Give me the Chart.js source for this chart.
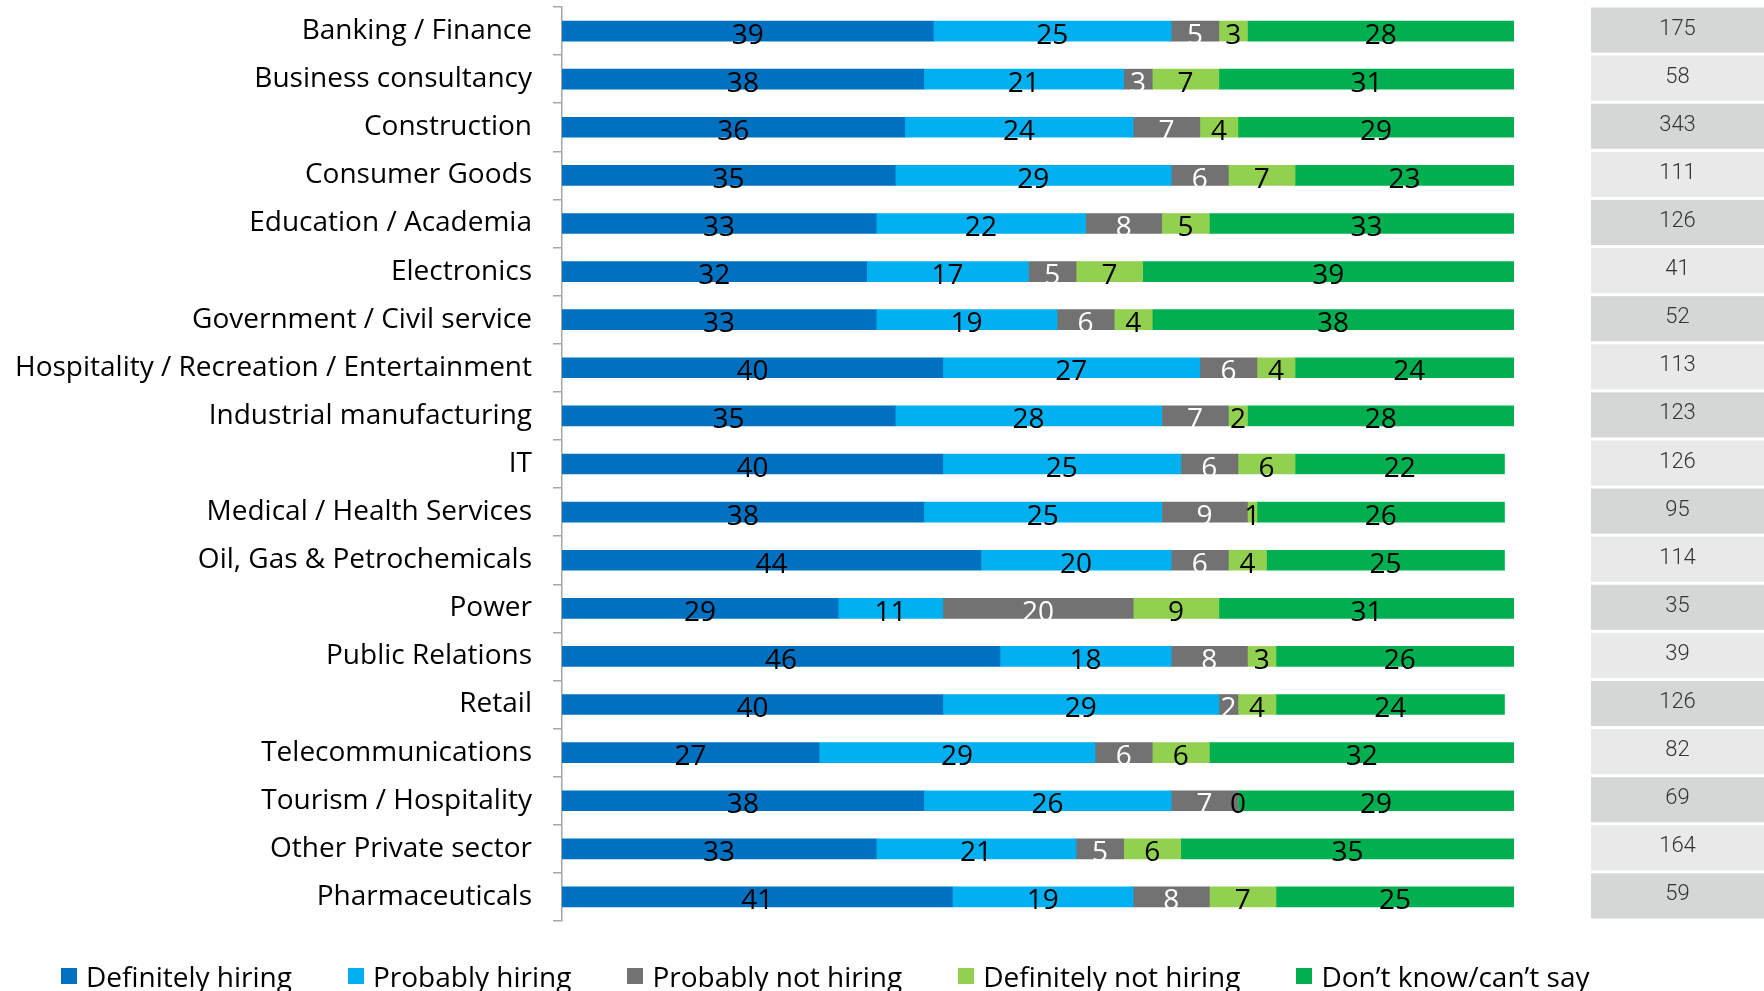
<!DOCTYPE html>
<html>
<head>
<meta charset="utf-8">
<script src="https://cdn.jsdelivr.net/npm/chart.js@4/dist/chart.umd.min.js"></script>
<style>
    html, body { margin: 0; padding: 0; background: #fff; }
    #wrap { position: relative; width: 1764px; height: 991px; overflow: hidden; }
    #legend {
        position: absolute; left: 61px; top: 957px;
        display: flex; align-items: center;
        font-family: 'Open Sans', sans-serif; font-size: 28px; color: #000;
        white-space: nowrap;
    }
    #legend .item { display: flex; align-items: center; margin-right: 56px; }
    #legend .box { width: 16px; height: 16px; margin-right: 9px; }
</style>
</head>
<body>
<div id="wrap">
    <canvas id="hiringChart" width="1764" height="991"></canvas>
    <div id="legend"></div>
</div>
<script>
const categories = [
    'Banking / Finance', 'Business consultancy', 'Construction', 'Consumer Goods',
    'Education / Academia', 'Electronics', 'Government / Civil service',
    'Hospitality / Recreation / Entertainment', 'Industrial manufacturing', 'IT',
    'Medical / Health Services', 'Oil, Gas & Petrochemicals', 'Power', 'Public Relations',
    'Retail', 'Telecommunications', 'Tourism / Hospitality', 'Other Private sector',
    'Pharmaceuticals'
];

const seriesLabels = ['Definitely hiring', 'Probably hiring', 'Probably not hiring', 'Definitely not hiring', 'Don\u2019t know/can\u2019t say'];

const definitelyHiring    = [39, 38, 36, 35, 33, 32, 33, 40, 35, 40, 38, 44, 29, 46, 40, 27, 38, 33, 41];
const probablyHiring      = [25, 21, 24, 29, 22, 17, 19, 27, 28, 25, 25, 20, 11, 18, 29, 29, 26, 21, 19];
const probablyNotHiring   = [5, 3, 7, 6, 8, 5, 6, 6, 7, 6, 9, 6, 20, 8, 2, 6, 7, 5, 8];
const definitelyNotHiring = [3, 7, 4, 7, 5, 7, 4, 4, 2, 6, 1, 4, 9, 3, 4, 6, 0, 6, 7];
const dontKnow            = [28, 31, 29, 23, 33, 39, 38, 24, 28, 22, 26, 25, 31, 26, 24, 32, 29, 35, 25];

// respondents per sector, shown in the grey column on the right
const sampleSizes = [175, 58, 343, 111, 126, 41, 52, 113, 123, 126, 95, 114, 35, 39, 126, 82, 69, 164, 59];

const seriesValues = [definitelyHiring, probablyHiring, probablyNotHiring, definitelyNotHiring, dontKnow];
const seriesColors = ['#0070C0', '#00B0F0', '#727272', '#92D050', '#00B050'];
const labelColors = ['#000', '#000', '#fff', '#000', '#000'];

const AXIS_GREY = '#a6a6a6';

// --- value labels centred on every segment ---
const segmentLabels = {
    id: 'segmentLabels',
    afterDatasetsDraw(chart) {
        const ctx = chart.ctx;
        ctx.save();
        ctx.font = '28px "Open Sans", sans-serif';
        ctx.textAlign = 'center';
        ctx.textBaseline = 'alphabetic';
        chart.data.datasets.forEach((ds, i) => {
            const meta = chart.getDatasetMeta(i);
            ctx.fillStyle = labelColors[i];
            meta.data.forEach((bar, j) => {
                const c = bar.getCenterPoint();
                ctx.fillText(String(ds.data[j]), c.x, c.y + 12.5);
            });
        });
        ctx.restore();
    }
};

// --- sample size column, one cell per category row ---
const sampleColumn = {
    id: 'sampleColumn',
    afterDraw(chart) {
        const ctx = chart.ctx;
        const y = chart.scales.y;
        const band = y.getPixelForValue(1) - y.getPixelForValue(0);
        const left = 1591, right = chart.width;
        ctx.save();
        ctx.font = '300 22px Roboto, sans-serif';
        ctx.textAlign = 'center';
        ctx.textBaseline = 'middle';
        sampleSizes.forEach((n, i) => {
            const yc = y.getPixelForValue(i);
            const top = yc - band / 2 + 0.5;
            ctx.fillStyle = i % 2 === 0 ? '#d5d6d6' : '#e9e9e9';
            ctx.fillRect(left, top, right - left, band - 3);
            ctx.fillStyle = '#333';
            ctx.fillText(String(n), (left + right) / 2, yc - 2);
        });
        ctx.restore();
    }
};

const chart = new Chart(document.getElementById('hiringChart'), {
    type: 'bar',
    data: {
        labels: categories,
        datasets: seriesValues.map((values, i) => ({
            label: seriesLabels[i],
            data: values,
            backgroundColor: seriesColors[i],
            borderWidth: 0,
            barThickness: 20
        }))
    },
    options: {
        indexAxis: 'y',
        responsive: false,
        animation: false,
        layout: { padding: { top: 7, right: 250, bottom: 70, left: 0 } },
        plugins: {
            legend: { display: false },
            tooltip: { enabled: false }
        },
        scales: {
            x: { stacked: true, min: 0, max: 100, display: false },
            y: {
                stacked: true,
                grid: { offset: true, drawOnChartArea: false, color: AXIS_GREY, lineWidth: 1.5, tickLength: 9 },
                border: { color: AXIS_GREY, width: 1.5 },
                ticks: { color: '#000', padding: 21, font: { family: 'Open Sans', size: 28 } },
                afterFit(scale) {
                    // axis line sits at x=562; labels sit inside their bands so no overhang is needed
                    scale.width = 562;
                    scale.paddingTop = 0;
                    scale.paddingBottom = 0;
                }
            }
        }
    },
    plugins: [segmentLabels, sampleColumn]
});

// legend built from the chart's own datasets
const legendEl = document.getElementById('legend');
chart.data.datasets.forEach(ds => {
    const item = document.createElement('div');
    item.className = 'item';
    const box = document.createElement('span');
    box.className = 'box';
    box.style.background = ds.backgroundColor;
    const text = document.createElement('span');
    text.textContent = ds.label;
    item.appendChild(box);
    item.appendChild(text);
    legendEl.appendChild(item);
});
</script>
</body>
</html>
